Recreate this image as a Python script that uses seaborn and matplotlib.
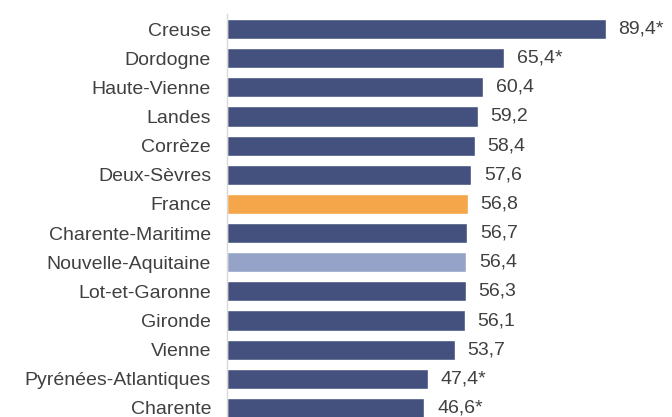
import matplotlib
matplotlib.use("Agg")
import matplotlib.pyplot as plt
import seaborn as sns
import pandas as pd

# Data
departements = ["Creuse", "Dordogne", "Haute-Vienne", "Landes", "Corrèze", "Deux-Sèvres",
                "France", "Charente-Maritime", "Nouvelle-Aquitaine", "Lot-et-Garonne",
                "Gironde", "Vienne", "Pyrénées-Atlantiques", "Charente"]
values = [89.4, 65.4, 60.4, 59.2, 58.4, 57.6, 56.8, 56.7, 56.4, 56.3, 56.1, 53.7, 47.4, 46.6]
value_labels = ["89,4*", "65,4*", "60,4", "59,2", "58,4", "57,6", "56,8", "56,7",
                "56,4", "56,3", "56,1", "53,7", "47,4*", "46,6*"]

DARK = "#44517f"
colors = {d: DARK for d in departements}
colors["France"] = "#f5a54a"
colors["Nouvelle-Aquitaine"] = "#95a3c8"

df = pd.DataFrame({"dep": departements, "val": values})

sns.set_theme(style="white")
plt.rcParams["font.family"] = ["Liberation Sans", "DejaVu Sans"]

fig = plt.figure(figsize=(6.72, 4.17), dpi=100)
ax = fig.add_axes([227 / 672, 0, 445 / 672, (417 - 14) / 417])

sns.barplot(data=df, y="dep", x="val", hue="dep", palette=colors, order=departements,
            width=0.69, legend=False, ax=ax, saturation=1)

ax.set_xlim(0, 105)
ax.set_ylim(13.31, -0.515)

for i, lab in enumerate(value_labels):
    ax.text(values[i] + 3.0, i, lab, va="center", ha="left", fontsize=14, color="#404040")

ax.set_xlabel("")
ax.set_ylabel("")
ax.set_xticks([])
ax.tick_params(axis="y", length=0, pad=11.5, labelsize=14, labelcolor="#404040")
for s in ["top", "right", "bottom"]:
    ax.spines[s].set_visible(False)
ax.spines["left"].set_color("#d9d9d9")
ax.spines["left"].set_linewidth(1)

fig.savefig("out.png", dpi=100, facecolor="white")
